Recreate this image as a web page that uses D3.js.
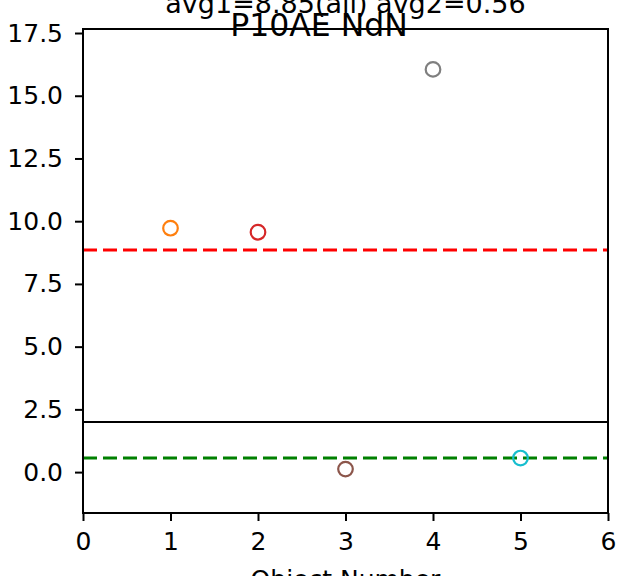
<!DOCTYPE html>
<html><head><meta charset="utf-8">
<script src="https://cdn.jsdelivr.net/npm/d3@7"></script>
<style>body{margin:0;background:#fff}svg{display:block}text{font-family:"DejaVu Sans",sans-serif}</style>
</head><body>
<script>
const objectNumbers = [1, 2, 3, 4, 5];
const values = [9.72, 9.56, 0.12, 16.05, 0.56];
const colors = ["#ff7f0e", "#d62728", "#8c564b", "#7f7f7f", "#17becf"];
const avg1 = 8.85, avg2 = 0.56, threshold = 2.0;
const xTicks = [0, 1, 2, 3, 4, 5, 6];
const yTicks = [0, 2.5, 5, 7.5, 10, 12.5, 15, 17.5];
const axTitle = "avg1=8.85(all) avg2=0.56";
const figTitle = "P10AE NdN";
const xLabel = "Object Number";

const W = 638, H = 576;
const m = {left: 83, right: 608, top: 29, bottom: 513};
const svg = d3.select("body").append("svg").attr("width", W).attr("height", H);
const x = d3.scaleLinear().domain([0, 6]).range([m.left, m.right]);
const y = d3.scaleLinear().domain([-1.63, 17.66]).range([m.bottom, m.top]);

// lines
svg.append("line").attr("x1", x(0)).attr("x2", x(6)).attr("y1", y(avg1)).attr("y2", y(avg1))
  .attr("stroke", "#ff0000").attr("stroke-width", 3).attr("stroke-dasharray", "14,6");
svg.append("line").attr("x1", x(0)).attr("x2", x(6)).attr("y1", y(avg2)).attr("y2", y(avg2))
  .attr("stroke", "#008000").attr("stroke-width", 3).attr("stroke-dasharray", "14,6");
svg.append("line").attr("x1", x(0)).attr("x2", x(6)).attr("y1", y(threshold)).attr("y2", y(threshold))
  .attr("stroke", "#000").attr("stroke-width", 2);

svg.selectAll("circle.pt").data(values).enter().append("circle").attr("class", "pt")
  .attr("cx", (d, i) => x(objectNumbers[i])).attr("cy", d => y(d)).attr("r", 7.3)
  .attr("fill", "none").attr("stroke", (d, i) => colors[i]).attr("stroke-width", 2.2);

// axes
const xAxis = svg.append("g").attr("transform", `translate(0,${m.bottom})`)
  .call(d3.axisBottom(x).tickValues(xTicks).tickFormat(d3.format("d")).tickSizeOuter(0).tickSize(8).tickPadding(11));
const yAxis = svg.append("g").attr("transform", `translate(${m.left},0)`)
  .call(d3.axisLeft(y).tickValues(yTicks).tickFormat(d3.format(".1f")).tickSizeOuter(0).tickSize(8).tickPadding(12));
[xAxis, yAxis].forEach(g => {
  g.select(".domain").remove();
  g.selectAll("line").attr("stroke", "#000").attr("stroke-width", 2);
  g.selectAll("text").attr("fill", "#000").style("font-size", "25px").style("font-family", '"DejaVu Sans",sans-serif');
});
svg.append("rect").attr("x", m.left).attr("y", m.top).attr("width", m.right - m.left).attr("height", m.bottom - m.top)
  .attr("fill", "none").attr("stroke", "#000").attr("stroke-width", 2);

const cx = (m.left + m.right) / 2;
svg.append("text").attr("x", cx).attr("y", 13).attr("text-anchor", "middle").style("font-size", "27px").text(axTitle);
svg.append("text").attr("x", W / 2).attr("y", 36).attr("text-anchor", "middle").style("font-size", "31.5px").text(figTitle);
svg.append("text").attr("x", cx).attr("y", 588).attr("text-anchor", "middle").style("font-size", "25px").text(xLabel);
</script>
</body></html>
